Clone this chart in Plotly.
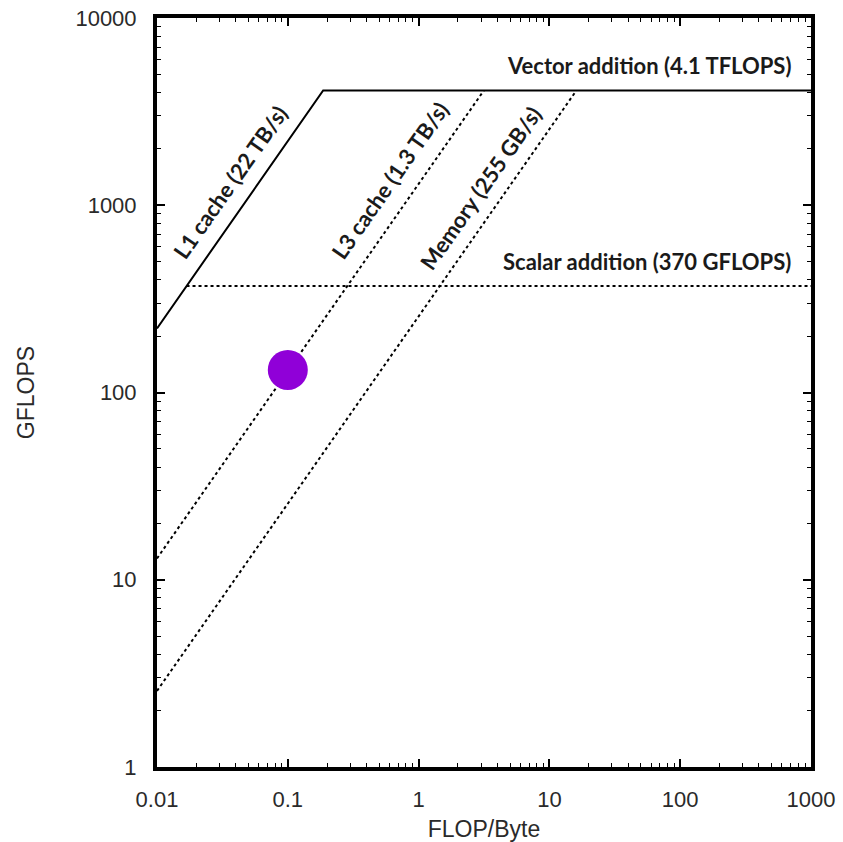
import math
import plotly.graph_objects as go

# Data
x_range = [0.01, 1000]          # FLOP/Byte
vector_peak = 4100              # GFLOPS (4.1 TFLOPS)
scalar_peak = 370               # GFLOPS
l1_bw = 22000                   # GB/s (22 TB/s)
l3_bw = 1300                    # GB/s (1.3 TB/s)
mem_bw = 255                    # GB/s
point_x = [0.1]
point_y = [132]

label_text = ["L1 cache (22 TB/s)", "L3 cache (1.3 TB/s)", "Memory (255 GB/s)"]
label_x = [0.036, 0.60, 2.95]
label_y = [1330, 1360, 1236]

x_ticks = [0.01, 0.1, 1, 10, 100, 1000]
x_tick_text = ["0.01", "0.1", "1", "10", "100", "1000"]
y_ticks = [1, 10, 100, 1000, 10000]
y_tick_text = ["1", "10", "100", "1000", "10000"]

fig = go.Figure()

# L1 roof (solid) with vector addition ceiling
l1_ridge = vector_peak / l1_bw
fig.add_trace(go.Scatter(
    x=[x_range[0], l1_ridge, x_range[1]],
    y=[l1_bw * x_range[0], vector_peak, vector_peak],
    mode="lines", line=dict(color="black", width=2), hoverinfo="skip"))

# Scalar addition ceiling (dotted), starting at the L1 line
fig.add_trace(go.Scatter(
    x=[scalar_peak / l1_bw, x_range[1]],
    y=[scalar_peak, scalar_peak],
    mode="lines", line=dict(color="black", width=2, dash="dot"), hoverinfo="skip"))

# L3 and memory bandwidth lines (dotted)
for bw in [l3_bw, mem_bw]:
    fig.add_trace(go.Scatter(
        x=[x_range[0], vector_peak / bw],
        y=[bw * x_range[0], vector_peak],
        mode="lines", line=dict(color="black", width=2, dash="dot"), hoverinfo="skip"))

# Measured point
fig.add_trace(go.Scatter(
    x=point_x, y=point_y, mode="markers",
    marker=dict(size=40, color="#9000d8", line=dict(width=0)), hoverinfo="skip"))

lab_font = dict(family="Lato", size=22, color="#1a1a1a")
for t, lx, ly in zip(label_text, label_x, label_y):
    fig.add_annotation(x=math.log10(lx), y=math.log10(ly), xref="x", yref="y",
                       text="<b>" + t + "</b>", showarrow=False,
                       textangle=-55, font=lab_font)

fig.add_annotation(x=1, xref="paper", xanchor="right", xshift=-18,
                   y=math.log10(vector_peak), yref="y", yshift=25,
                   text="<b>Vector addition (4.1 TFLOPS)</b>", showarrow=False, font=lab_font)
fig.add_annotation(x=1, xref="paper", xanchor="right", xshift=-18,
                   y=math.log10(scalar_peak), yref="y", yshift=25,
                   text="<b>Scalar addition (370 GFLOPS)</b>", showarrow=False, font=lab_font)


def minor_vals(lo, hi):
    return [k * 10 ** d for d in range(lo, hi) for k in range(2, 10)]


axis_common = dict(
    showline=True, linecolor="black", linewidth=4, mirror="ticks",
    ticks="inside", ticklen=8, tickwidth=2, tickcolor="black",
    showgrid=False, zeroline=False, automargin=False,
    tickfont=dict(family="Liberation Sans", size=22, color="#2a2a2a"),
    title_font=dict(family="Liberation Sans", size=23, color="#2a2a2a"),
)

fig.update_xaxes(type="log", range=[-2, 3], tickvals=x_ticks, ticktext=x_tick_text,
                 ticklabelstandoff=10,
                 minor=dict(ticks="inside", ticklen=4, tickwidth=1, tickcolor="black",
                            tickvals=minor_vals(-2, 3), showgrid=False),
                 title_text="FLOP/Byte", title_standoff=10, **axis_common)
fig.update_yaxes(type="log", range=[0, 4], tickvals=y_ticks, ticktext=y_tick_text,
                 ticklabelstandoff=12,
                 minor=dict(ticks="inside", ticklen=4, tickwidth=1, tickcolor="black",
                            tickvals=minor_vals(0, 4), showgrid=False),
                 title_text="GFLOPS", title_standoff=35, **axis_common)

fig.update_layout(
    width=843, height=842,
    margin=dict(l=157, r=32, t=18, b=75),
    plot_bgcolor="white", paper_bgcolor="white",
    showlegend=False,
)

fig.write_html("out.html")
